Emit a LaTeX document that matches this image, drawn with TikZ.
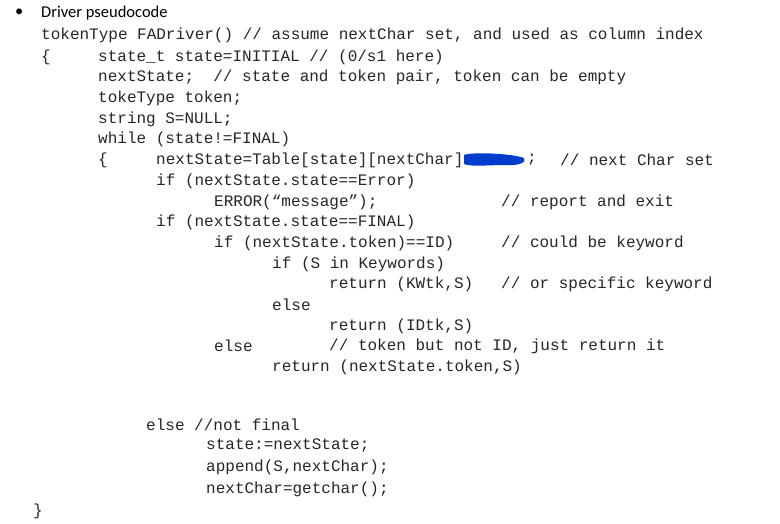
\documentclass[tikz,border=0pt]{standalone}
\usepackage{fontspec}
\setmainfont{Carlito}
\newfontfamily\codefont{Liberation Mono}
\tikzset{code/.style={anchor=west,inner sep=0pt,font=\codefont\fontsize{16}{16}\selectfont,text=black!85},
  head/.style={anchor=west,inner sep=0pt,font=\fontsize{16.5}{16}\selectfont}}
\begin{document}
\begin{tikzpicture}[x=1pt,y=-1pt]
\useasboundingbox[fill=white] (0,0) rectangle (780,524);
\node[head] (h0) at (15,13) {\textbullet};
\node[head] (h1) at (41,13) {Driver pseudocode};
\node[code] (a1) at (41,35) {tokenType FADriver() // assume nextChar set, and used as column index};
\node[code] (a2) at (41,57) {\{};
\node[code] (a3) at (98,57) {state\_t state=INITIAL // (0/s1 here)};
\node[code] (a4) at (98,77) {nextState;\ \ // state and token pair, token can be empty};
\node[code] (a5) at (98,98) {tokeType token;};
\node[code] (a6) at (98,119) {string S=NULL;};
\node[code] (a7) at (98,139) {while (state!=FINAL)};
\node[code] (a8) at (98,160) {\{};
\node[code] (a9) at (156,160) {nextState=Table[state][nextChar]};
\fill[blue!70!cyan!80!black] (464,155) .. controls (470,152) and (510,153) .. (524,158) .. controls (527,162) and (520,166) .. (505,165) .. controls (490,165) and (470,167) .. (464,164) -- cycle;
\node[code] (a9b) at (527,160) {;};
\node[code] (a9c) at (560,160) {// next Char set};
\node[code] (b1) at (156,181) {if (nextState.state==Error)};
\node[code] (b2) at (214,202) {ERROR(“message”);};
\node[code] (b2c) at (501,202) {// report and exit};
\node[code] (b3) at (156,222) {if (nextState.state==FINAL)};
\node[code] (b4) at (214,243) {if (nextState.token)==ID)};
\node[code] (b4c) at (501,243) {// could be keyword};
\node[code] (b5) at (272,264) {if (S in Keywords)};
\node[code] (b6) at (329,284) {return (KWtk,S)};
\node[code] (b6c) at (501,284) {// or specific keyword};
\node[code] (b7) at (272,305) {else};
\node[code] (b8) at (329,326) {return (IDtk,S)};
\node[code] (b9) at (214,346) {else};
\node[code] (b9c) at (329,346) {// token but not ID, just return it};
\node[code] (b10) at (272,367) {return (nextState.token,S)};
\node[code] (c1) at (146,425) {else //not final};
\node[code] (c2) at (206,446) {state:=nextState;};
\node[code] (c3) at (206,467) {append(S,nextChar);};
\node[code] (c4) at (206,489) {nextChar=getchar();};
\node[code] (c5) at (33,511) {\}};
\end{tikzpicture}
\end{document}
